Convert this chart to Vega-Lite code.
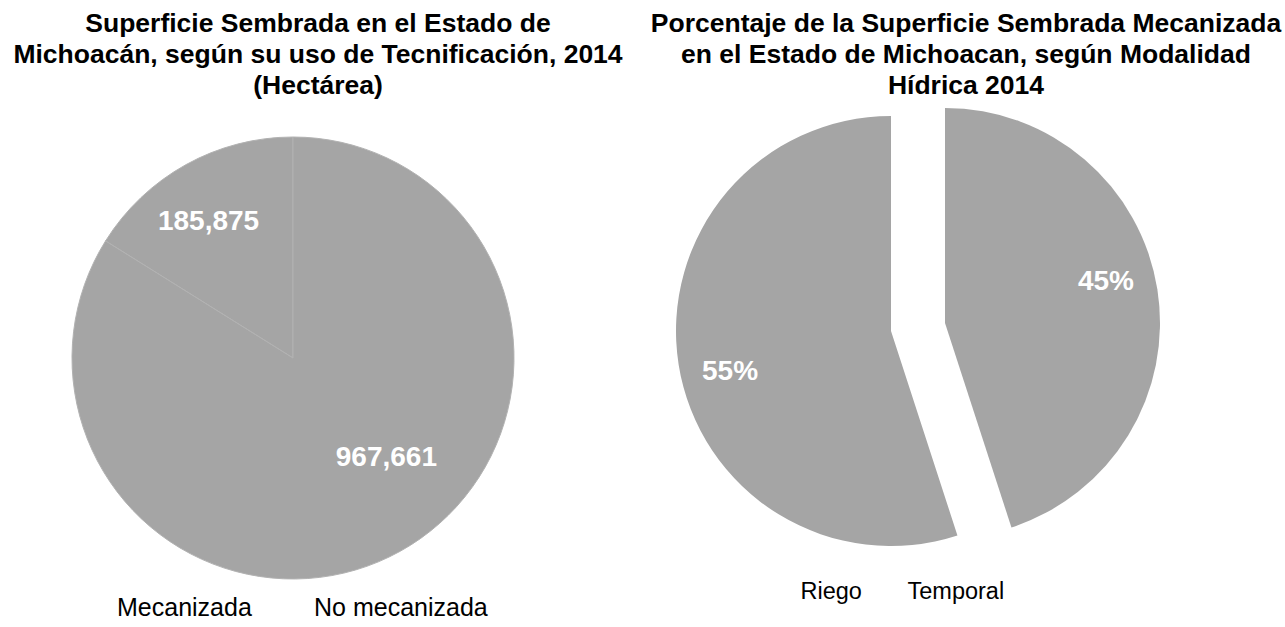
{
  "$schema": "https://vega.github.io/schema/vega-lite/v6.json",
  "background": "white",
  "padding": {"left": 13, "top": 10, "right": 0, "bottom": 0},
  "spacing": 125,
  "bounds": "flush",
  "config": {
    "font": "Liberation Sans",
    "view": {"stroke": null},
    "title": {"font": "Liberation Sans", "fontSize": 26.5, "fontWeight": "bold", "color": "#000000", "lineHeight": 31, "anchor": "middle", "frame": "group", "offset": 2},
    "legend": {"labelFont": "Liberation Sans", "labelFontSize": 23.5, "labelColor": "#000000", "labelLimit": 400, "symbolSize": 0, "symbolOpacity": 0, "symbolStrokeWidth": 0, "labelOffset": 0, "direction": "horizontal", "orient": "none"}
  },
  "resolve": {
    "scale": {"color": "independent", "theta": "independent", "x": "independent", "y": "independent"},
    "legend": {"color": "independent"}
  },
  "hconcat": [
    {
      "width": 500,
      "height": 514,
      "title": {"text": ["Superficie Sembrada en el Estado de", "Michoacán, según su uso de Tecnificación, 2014", "(Hectárea)"], "dx": 25},
      "data": {"values": [
        {"Uso": "Mecanizada", "Hectareas": 185875},
        {"Uso": "No mecanizada", "Hectareas": 967661}
      ]},
      "encoding": {
        "theta": {"field": "Hectareas", "type": "quantitative", "stack": true},
        "order": {"field": "Hectareas", "type": "quantitative", "sort": "descending"}
      },
      "layer": [
        {
          "mark": {"type": "arc", "outerRadius": 221, "stroke": "#b2b2b2", "strokeWidth": 1},
          "encoding": {
            "color": {"field": "Uso", "type": "nominal", "scale": {"domain": ["Mecanizada", "No mecanizada"], "range": ["#a5a5a5", "#a5a5a5"]},
              "legend": {"title": null, "legendX": 49, "legendY": 494, "columnPadding": 37, "labelLimit": 400, "labelFontSize": 25}}
          }
        },
        {
          "mark": {"type": "text", "radius": 160, "thetaOffset": -0.05, "font": "Liberation Sans", "fontSize": 28, "fontWeight": "bold", "color": "#ffffff"},
          "encoding": {
            "detail": {"field": "Uso", "type": "nominal"},
            "text": {"condition": {"test": "datum.Uso === 'Mecanizada'", "field": "Hectareas", "type": "quantitative", "format": ","}, "value": ""}
          }
        },
        {
          "mark": {"type": "text", "radius": 137, "thetaOffset": -0.244, "font": "Liberation Sans", "fontSize": 28, "fontWeight": "bold", "color": "#ffffff"},
          "encoding": {
            "detail": {"field": "Uso", "type": "nominal"},
            "text": {"condition": {"test": "datum.Uso === 'No mecanizada'", "field": "Hectareas", "type": "quantitative", "format": ","}, "value": ""}
          }
        }
      ]
    },
    {
      "width": 500,
      "height": 454,
      "title": {"text": ["Porcentaje de la Superficie Sembrada Mecanizada", "en el Estado de Michoacan, según Modalidad", "Hídrica 2014"], "dx": 48},
      "data": {"values": [
        {"Modalidad": "Riego", "Porcentaje": 0.55},
        {"Modalidad": "Temporal", "Porcentaje": 0.45}
      ]},
      "encoding": {
        "theta": {"field": "Porcentaje", "type": "quantitative", "stack": true},
        "order": {"field": "Porcentaje", "type": "quantitative", "sort": "ascending"},
        "x": {"field": "Modalidad", "type": "nominal", "scale": {"type": "point", "domain": ["Riego", "Temporal"], "range": [223, 277], "padding": 0}, "axis": null},
        "y": {"field": "Modalidad", "type": "nominal", "scale": {"type": "point", "domain": ["Temporal", "Riego"], "range": [222, 230], "padding": 0}, "axis": null}
      },
      "layer": [
        {
          "mark": {"type": "arc", "outerRadius": 215},
          "encoding": {
            "color": {"field": "Modalidad", "type": "nominal", "scale": {"domain": ["Riego", "Temporal"], "range": ["#a5a5a5", "#a5a5a5"]},
              "legend": {"title": null, "legendX": 109, "legendY": 479, "columnPadding": 22, "labelLimit": 400}}
          }
        },
        {
          "mark": {"type": "text", "radius": 166, "thetaOffset": -0.09, "font": "Liberation Sans", "fontSize": 28, "fontWeight": "bold", "color": "#ffffff"},
          "encoding": {
            "detail": {"field": "Modalidad", "type": "nominal"},
            "text": {"field": "Porcentaje", "type": "quantitative", "format": ".0%"}
          }
        }
      ]
    }
  ]
}
